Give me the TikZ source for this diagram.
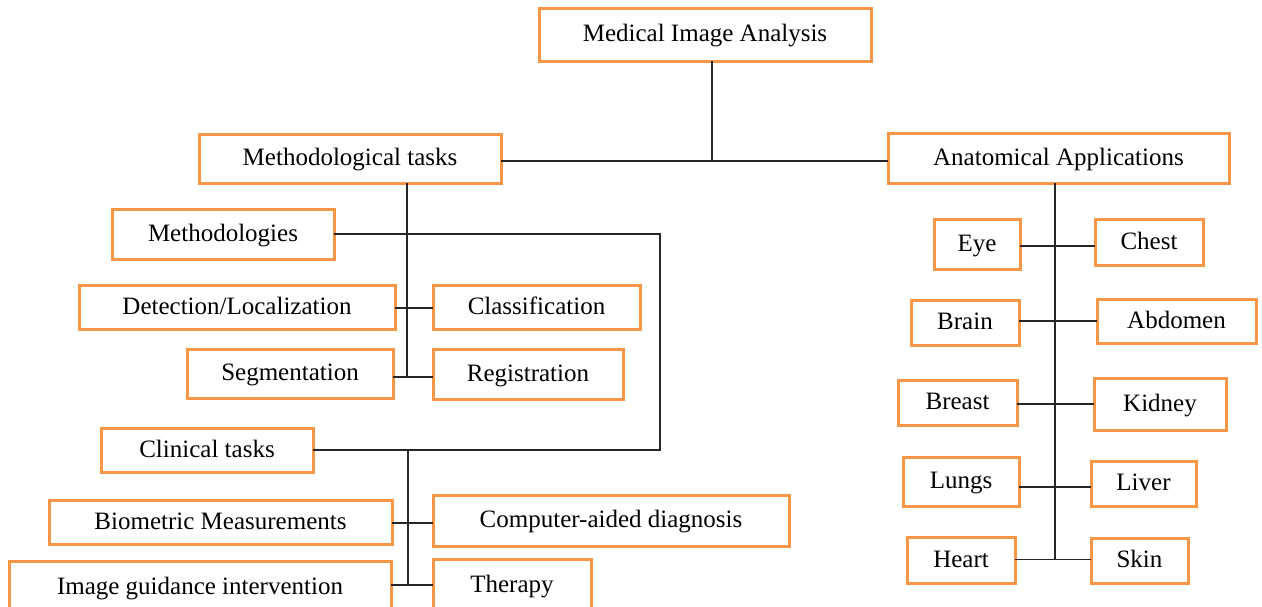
\documentclass[tikz,border=0pt]{standalone}
\usepackage{fontspec}
\setmainfont{Liberation Serif}
\definecolor{boxorange}{RGB}{247,150,70}
\tikzset{
  box/.style={draw=boxorange, line width=1.5pt, fill=white, inner sep=0pt, outer sep=0pt,
    font=\fontsize{12.5pt}{14pt}\selectfont, text=black,
    text height=0.92em, text depth=0.22em},
  link/.style={draw=black!85, line width=0.9pt}
}
% \bx{name}{x1}{y1}{x2}{y2}{label}: a box given by its corners in pixel units
\newcommand\bx[6]{\node[box, minimum width={(#4-#2)*0.5pt}, minimum height={(#5-#3)*0.5pt}]
  (#1) at ({(#2+#4)/2},{-(#3+#5)/2}) {#6};}
\begin{document}
\begin{tikzpicture}[x=0.5pt, y=0.5pt]
\clip (0,0) rectangle (1262,-606);
\fill[white] (0,0) rectangle (1262,-606);

% top level
\bx{mia}{539}{8}{871}{61}{Medical Image Analysis}
\bx{meth}{199}{134}{501}{183}{Methodological tasks}
\bx{anat}{888}{133}{1229}{183}{Anatomical Applications}

% methodological branch
\bx{mthd}{112}{209}{334}{259}{Methodologies}
\bx{det}{79}{285}{395}{329}{Detection/Localization}
\bx{cls}{433}{285}{640}{329}{Classification}
\bx{seg}{187}{349}{393}{398}{Segmentation}
\bx{reg}{433}{349}{623}{399}{Registration}
\bx{clin}{101}{428}{313}{472}{Clinical tasks}
\bx{bio}{49}{500}{392}{544}{Biometric Measurements}
\bx{cad}{433}{495}{789}{546}{Computer-aided diagnosis}
\bx{igi}{9}{561}{391}{613}{Image guidance intervention}
\bx{ther}{433}{559}{591}{611}{Therapy}

% anatomical branch
\bx{eye}{934}{219}{1020}{269}{Eye}
\bx{chest}{1095}{219}{1203}{265}{Chest}
\bx{brain}{911}{300}{1019}{345}{Brain}
\bx{abd}{1097}{299}{1256}{343}{Abdomen}
\bx{breast}{898}{380}{1017}{425}{Breast}
\bx{kid}{1094}{378}{1226}{430}{Kidney}
\bx{lungs}{903}{457}{1019}{506}{Lungs}
\bx{liver}{1091}{461}{1196}{506}{Liver}
\bx{heart}{907}{537}{1015}{583}{Heart}
\bx{skin}{1091}{538}{1188}{583}{Skin}

% heights of the horizontal connectors
\coordinate (r0) at (0,-161);
\coordinate (rDet) at (0,-308);
\coordinate (rSeg) at (0,-377);
\coordinate (rBio) at (0,-523);
\coordinate (rIgi) at (0,-585);
\coordinate (rEye) at (0,-246);
\coordinate (rBrain) at (0,-321);
\coordinate (rBreast) at (0,-404);
\coordinate (rLungs) at (0,-487);
\coordinate (rHeart) at (0,-559.5);

% junction points
\coordinate (j0) at (712,-161);
\coordinate (jm) at (407,-183);
\coordinate (jmEnd) at (407,-377);
\coordinate (jr) at (660,-340);
\coordinate (jc) at (408,-450);
\coordinate (jcEnd) at (408,-585);
\coordinate (ja) at (1055,-183);
\coordinate (jaEnd) at (1055,-559.5);

% connectors
\draw[link] (meth.east |- r0) -- (anat.west |- r0);
\draw[link] (mia.south -| j0) -- (j0);
\draw[link] (jm) -- (jmEnd);
\draw[link] (det.east |- rDet) -- (cls.west |- rDet);
\draw[link] (seg.east |- rSeg) -- (reg.west |- rSeg);
\draw[link] (mthd.east) -| (jr) |- (clin.east);
\draw[link] (jc) -- (jcEnd);
\draw[link] (bio.east |- rBio) -- (cad.west |- rBio);
\draw[link] (igi.east |- rIgi) -- (ther.west |- rIgi);
\draw[link] (ja) -- (jaEnd);
\draw[link] (eye.east |- rEye) -- (chest.west |- rEye);
\draw[link] (brain.east |- rBrain) -- (abd.west |- rBrain);
\draw[link] (breast.east |- rBreast) -- (kid.west |- rBreast);
\draw[link] (lungs.east |- rLungs) -- (liver.west |- rLungs);
\draw[link] (heart.east |- rHeart) -- (skin.west |- rHeart);
\end{tikzpicture}
\end{document}
